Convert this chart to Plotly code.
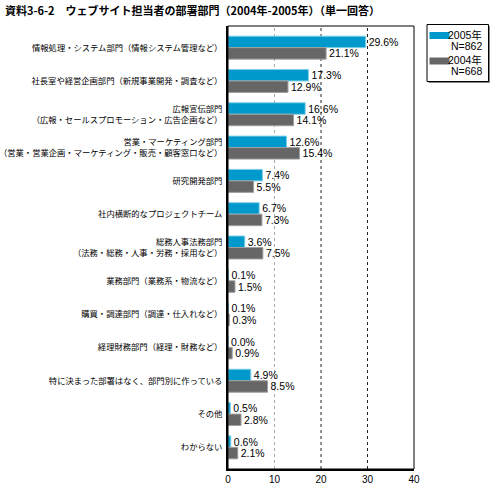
import plotly.graph_objects as go

categories = [
    "情報処理・システム部門（情報システム管理など）",
    "社長室や経営企画部門（新規事業開発・調査など）",
    "広報宣伝部門<br>（広報・セールスプロモーション・広告企画など）",
    "営業・マーケティング部門<br>（営業・営業企画・マーケティング・販売・顧客窓口など）",
    "研究開発部門",
    "社内横断的なプロジェクトチーム",
    "総務人事法務部門<br>（法務・総務・人事・労務・採用など）",
    "業務部門（業務系・物流など）",
    "購買・調達部門（調達・仕入れなど）",
    "経理財務部門（経理・財務など）",
    "特に決まった部署はなく、部門別に作っている",
    "その他",
    "わからない",
]
values_2005 = [29.6, 17.3, 16.6, 12.6, 7.4, 6.7, 3.6, 0.1, 0.1, 0.0, 4.9, 0.5, 0.6]
values_2004 = [21.1, 12.9, 14.1, 15.4, 5.5, 7.3, 7.5, 1.5, 0.3, 0.9, 8.5, 2.8, 2.1]
series_years = ["2005年", "2004年"]
series_n = ["N=862", "N=668"]
series_colors = ["#0099cc", "#666666"]
series_edges = ["#7fcfe8", "#a0a0a0"]
x_ticks = [0, 10, 20, 30, 40]
grid_light = [10]
grid_dark = [20, 30]

W, H = 492, 487
L, R, T, B = 228, 78, 26, 18
PW, PH = W - L - R, H - T - B


def px(x):
    return (x - L) / PW


def py(y):
    return (H - B - y) / PH


ypos = list(range(len(categories)))
bw = 0.345

fig = go.Figure()
for i, vals in enumerate([values_2005, values_2004]):
    off = -bw / 2 if i == 0 else bw / 2
    fig.add_trace(go.Bar(
        y=[p + off for p in ypos], x=vals, orientation="h", width=bw,
        name=f"{series_years[i]} {series_n[i]}", showlegend=False,
        marker=dict(color=series_colors[i], line=dict(color=series_edges[i], width=1)),
        text=[f"{v:.1f}%" for v in vals], textposition="outside",
        constraintext="none",
        textfont=dict(family="Liberation Sans, Arial", size=10.5, color="#000"),
        cliponaxis=False,
    ))

shapes = []
for g in grid_light:
    shapes.append(dict(type="line", xref="x", yref="paper", x0=g, x1=g, y0=0, y1=1,
                       line=dict(color="#aaaaaa", width=1, dash="dot"), layer="below"))
for g in grid_dark:
    shapes.append(dict(type="line", xref="x", yref="paper", x0=g, x1=g, y0=0, y1=1,
                       line=dict(color="#222222", width=1, dash="dot"), layer="below"))
shapes.append(dict(type="rect", xref="paper", yref="paper", x0=0, x1=1, y0=0, y1=1,
                   line=dict(color="#000", width=1)))

# legend box (drawn in paper coordinates)
shapes.append(dict(type="rect", xref="paper", yref="paper",
                   x0=px(428.5), x1=px(490), y0=py(83), y1=py(26),
                   fillcolor="#888888", line=dict(width=0)))
shapes.append(dict(type="rect", xref="paper", yref="paper",
                   x0=px(427), x1=px(488.5), y0=py(81.5), y1=py(24.5),
                   fillcolor="white", line=dict(color="#000", width=1)))
annotations = []
sw_tops = [32, 57.5]
for i in range(2):
    top = sw_tops[i]
    shapes.append(dict(type="rect", xref="paper", yref="paper",
                       x0=px(429.5), x1=px(449.5), y0=py(top + 7), y1=py(top),
                       fillcolor=series_colors[i], line=dict(width=0)))
    annotations.append(dict(xref="paper", yref="paper", x=px(484), y=py(top + 3),
                            xanchor="right", yanchor="middle", showarrow=False,
                            text=series_years[i],
                            font=dict(size=10.5, family="Liberation Sans, Noto Sans CJK JP")))
    annotations.append(dict(xref="paper", yref="paper", x=px(484), y=py(top + 13.5),
                            xanchor="right", yanchor="middle", showarrow=False,
                            text=series_n[i],
                            font=dict(size=10.5, family="Liberation Sans, Noto Sans CJK JP")))

fig.update_layout(
    width=W, height=H,
    margin=dict(l=L, r=R, t=T, b=B, autoexpand=False),
    paper_bgcolor="white", plot_bgcolor="white",
    font=dict(family="Noto Sans CJK JP", color="#000"),
    title=dict(text="<b>資料3-6-2　ウェブサイト担当者の部署部門（2004年-2005年）（単一回答）</b>",
               x=0.0, xanchor="left", xref="container", y=1 - 11 / H, yanchor="middle",
               yref="container", pad=dict(l=5, t=0, r=0, b=0),
               font=dict(size=11, family="Noto Sans CJK JP")),
    showlegend=False,
    shapes=shapes,
    annotations=annotations,
    bargap=0, barmode="overlay",
)
fig.update_xaxes(range=[0, 40], tickvals=x_ticks, showgrid=False, zeroline=False,
                 showline=True, linecolor="#000", linewidth=2, automargin=False,
                 ticks="", tickfont=dict(size=10, family="Liberation Sans, Arial"))
fig.update_yaxes(range=[12.65, -0.65], tickvals=ypos, ticktext=categories,
                 showgrid=False, zeroline=False, showline=True, linecolor="#000",
                 linewidth=2, ticks="", ticklabelstandoff=2, automargin=False,
                 tickfont=dict(size=8.3, family="Noto Sans CJK JP"))

fig.write_html("out.html",
               config={"displayModeBar": False, "staticPlot": True},
               post_script="document.body.style.margin='0';document.body.style.overflow='hidden';")
